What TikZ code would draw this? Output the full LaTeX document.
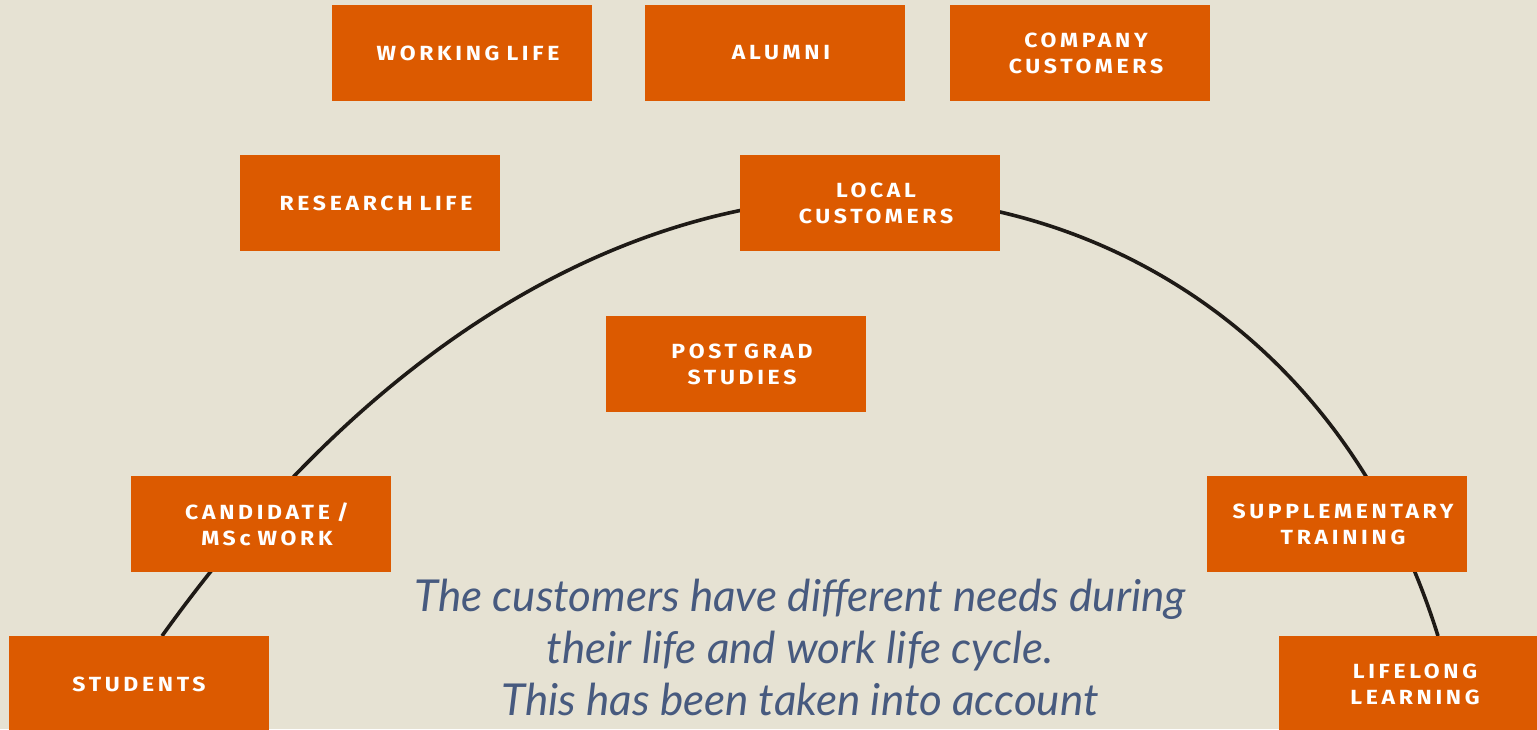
\documentclass[tikz,border=0pt]{standalone}
\usepackage{fontspec}
\setmainfont{Lato}
\newfontfamily\boxfont[LetterSpace=18,FakeStretch=1.12,BoldFont={* Bold},BoldFeatures={FakeStretch=1.12}]{Fira Sans}
\newfontfamily\capfont{Lato Italic}
\newcommand{\wsp}{\kern 7pt}
\newcommand{\lead}{\kern 12pt}
\newcommand{\nxt}{\\\lead}
\definecolor{bg}{HTML}{E6E2D3}
\definecolor{boxorange}{HTML}{DC5A00}
\definecolor{curvecol}{HTML}{1E1A16}
\definecolor{textblue}{HTML}{475A7F}
\tikzset{
  lifebox/.style={fill=boxorange, draw=none, minimum width=260pt, minimum height=96pt,
    inner sep=0pt, text=white, align=center,
    font=\boxfont\bfseries\fontsize{20.5}{26}\selectfont},
  arcline/.style={draw=curvecol, line width=3.6pt},
}
\begin{document}
\begin{tikzpicture}[x=1pt,y=-1pt]
\fill[bg] (0,0) rectangle (1537,729);
\useasboundingbox (0,0) rectangle (1537,729);
\begin{scope}
\clip (0,0) rectangle (1537,729);
\coordinate (arcL) at (162,636);
\coordinate (arcTop) at (870,197);
\coordinate (arcR) at (1438,636);
\draw[arcline] (arcL) .. controls (385,325) and (640,197) .. (arcTop)
  .. controls (1088,197) and (1341,325) .. (arcR);
\node[lifebox] (working) at (462,53) {\lead WORKING\wsp LIFE};
\node[lifebox] (alumni) at (775,53) {\lead ALUMNI};
\node[lifebox] (company) at (1080,53) {\lead COMPANY\nxt CUSTOMERS};
\node[lifebox] (research) at (370,203) {\lead RESEARCH\wsp LIFE};
\node[lifebox] (local) at (870,203) {\lead LOCAL\nxt CUSTOMERS};
\node[lifebox] (postgrad) at (736,364) {\lead POST\wsp GRAD\nxt STUDIES};
\node[lifebox] (candidate) at (261,524) {\lead CANDIDATE\wsp /\nxt MSc\wsp WORK};
\node[lifebox] (supp) at (1337,524) {\lead SUPPLEMENTARY\nxt TRAINING};
\node[lifebox] (students) at (139,684) {STUDENTS};
\node[lifebox] (lifelong) at (1409,684) {\lead LIFELONG\nxt LEARNING};
\node[text=textblue, align=center, font=\capfont\fontsize{44}{52}\selectfont, anchor=north]
  (caption) at (800,576) {The customers have different needs during\\their life and work life cycle.\\This has been taken into account};
\end{scope}
\end{tikzpicture}
\end{document}
